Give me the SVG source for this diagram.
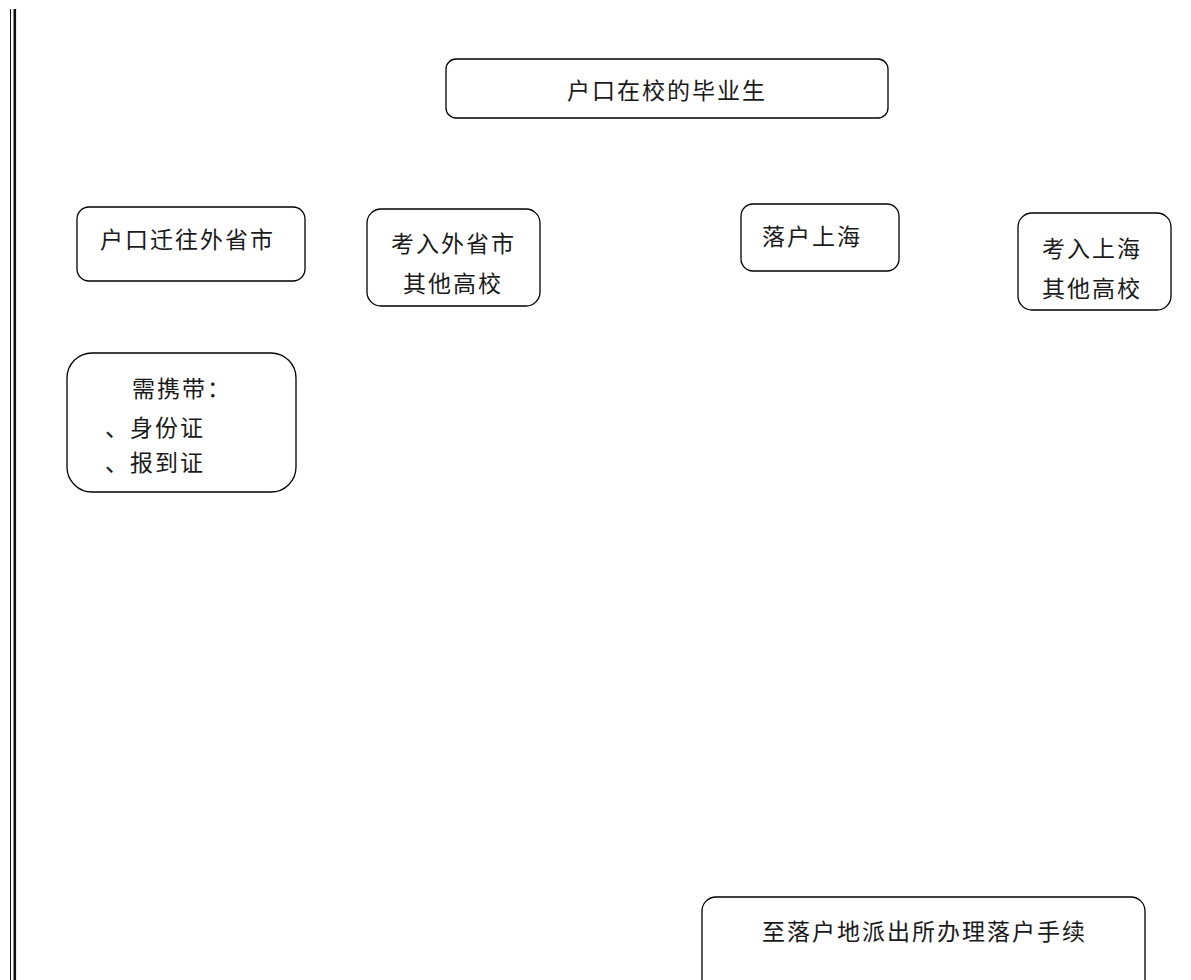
<svg xmlns="http://www.w3.org/2000/svg" width="1191" height="980" viewBox="0 0 1191 980">
<style>
.box{fill:#fff;stroke:#000;stroke-width:1.3}
.t{font-family:"Noto Sans CJK SC","Noto Sans CJK JP",sans-serif;font-size:23px;letter-spacing:2px;fill:#1a1a1a}
</style>
<rect x="0" y="0" width="1191" height="980" fill="#fff"/>
<g id="border">
<line x1="10.5" y1="9" x2="10.5" y2="980" stroke="#111" stroke-width="1"/>
<line x1="14.8" y1="9" x2="14.8" y2="980" stroke="#111" stroke-width="2.6"/>
</g>
<g id="connectors"></g>
<g id="n-top">
<rect class="box" x="446" y="59" width="442" height="59" rx="10"/>
<text class="t" x="567" y="99">户口在校的毕业生</text>
</g>
<g id="n-out">
<rect class="box" x="77" y="207" width="228" height="74" rx="12"/>
<text class="t" x="100" y="248">户口迁往外省市</text>
</g>
<g id="n-outschool">
<rect class="box" x="367" y="209" width="173" height="97" rx="14"/>
<text class="t" x="391" y="252">考入外省市</text>
<text class="t" x="403" y="292">其他高校</text>
</g>
<g id="n-sh">
<rect class="box" x="741" y="204" width="158" height="67" rx="12"/>
<text class="t" x="762" y="245">落户上海</text>
</g>
<g id="n-shschool">
<rect class="box" x="1018" y="213" width="153" height="97" rx="14"/>
<text class="t" x="1042" y="257">考入上海</text>
<text class="t" x="1042" y="297">其他高校</text>
</g>
<g id="n-bring">
<rect class="box" x="67" y="353" width="229" height="139" rx="25"/>
<text class="t" x="132" y="397">需携带：</text>
<text class="t" x="105" y="436">、身份证</text>
<text class="t" x="105" y="471">、报到证</text>
</g>
<g id="n-bottom">
<rect class="box" x="702" y="897" width="443" height="100" rx="14"/>
<text class="t" x="762" y="940">至落户地派出所办理落户手续</text>
</g>
</svg>
